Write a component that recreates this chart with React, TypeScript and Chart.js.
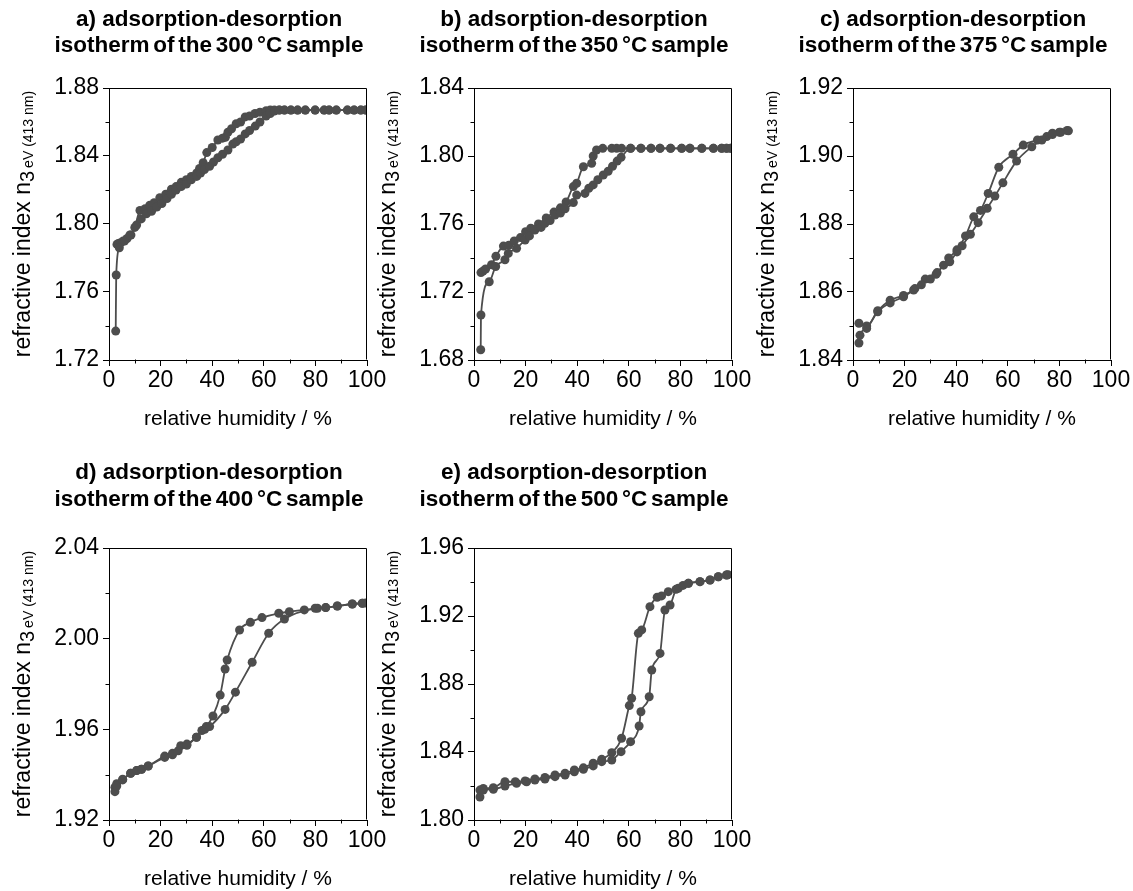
import React, { useEffect, useRef } from "react";
import { Chart, registerables } from "chart.js";
Chart.register(...registerables);

type P = [number, number];

// ---------- data (relative humidity %, refractive index) ----------
const aAdsorption: P[] = [[2.6,1.737],[2.8,1.770],[4,1.786],[6,1.790],[8.1,1.7935],[10.7,1.7994],[12.5,1.803],[14.5,1.806],[16.5,1.8075],[18.5,1.810],[20.5,1.812],[22.5,1.815],[24.2,1.8175],[26,1.820],[28,1.822],[30,1.8235],[31.9,1.826],[34,1.828],[35.5,1.830],[37,1.832],[39,1.834],[40.5,1.8365],[42.2,1.839],[44,1.841],[46.1,1.8435],[48,1.847],[49.3,1.8484],[51,1.850],[52.8,1.853],[54.5,1.855],[56.7,1.8576],[58.5,1.860],[60.9,1.8635],[62.5,1.865],[64.1,1.8665],[66,1.867],[68,1.867],[70.5,1.867],[73.1,1.867],[76.1,1.867],[79.9,1.867],[83.4,1.867],[85.3,1.867],[88.1,1.867],[92.4,1.867],[95,1.867],[97.6,1.867],[99.5,1.867]];
const aDesorption: P[] = [[3.1,1.788],[3.6,1.7886],[4.5,1.789],[5.5,1.790],[7,1.7915],[8.5,1.7935],[10,1.798],[12,1.808],[14,1.809],[15.8,1.811],[17.5,1.8125],[19.7,1.8155],[22,1.8175],[24.2,1.8205],[26,1.822],[28,1.8245],[30,1.826],[31.9,1.828],[34,1.830],[35.1,1.8327],[36.5,1.836],[37.9,1.842],[40,1.845],[42.2,1.8494],[44,1.8505],[45.1,1.851],[46.1,1.854],[47.5,1.856],[49.3,1.859],[51,1.860],[52.8,1.863],[54.5,1.8635],[56.6,1.865],[58.5,1.8658],[60.9,1.8666],[62.5,1.867],[64.1,1.867],[66,1.867],[68,1.867],[70.5,1.867],[73.1,1.867],[76.1,1.867],[79.9,1.867],[83.4,1.867],[85.3,1.867],[88.1,1.867],[92.4,1.867],[95,1.867],[97.6,1.867],[99.5,1.867]];

const bAdsorption: P[] = [[2.6,1.686],[2.7,1.7065],[5.9,1.726],[8.4,1.735],[12,1.739],[13.3,1.7427],[16.5,1.7457],[19.8,1.7506],[21.5,1.753],[23.6,1.7565],[26,1.758],[27.5,1.7604],[29.5,1.762],[31.4,1.7653],[33.5,1.7665],[35.3,1.769],[38.5,1.7726],[39.8,1.777],[43,1.778],[44.5,1.781],[46.2,1.783],[48,1.786],[50.1,1.7888],[52,1.791],[53.7,1.794],[55.5,1.797],[57,1.7992],[60.7,1.8045],[64.7,1.8045],[68.6,1.8045],[72.1,1.8045],[76.2,1.8045],[80.5,1.8045],[83.7,1.8045],[88.3,1.8045],[92.8,1.8045],[96,1.8045],[97.9,1.8045],[99.5,1.8045]];
const bDesorption: P[] = [[2.7,1.7314],[3.5,1.7323],[4.5,1.7335],[6.8,1.736],[8.5,1.741],[11.4,1.747],[13.5,1.7475],[15.6,1.750],[18,1.752],[20,1.7555],[22,1.7575],[25,1.760],[28,1.7635],[31,1.767],[33.5,1.7695],[35.7,1.773],[38.5,1.782],[39.8,1.784],[42.4,1.7937],[45.6,1.7957],[46.2,1.800],[47.5,1.8035],[49.9,1.8045],[53.4,1.8045],[55.3,1.8045],[57.2,1.8045],[60.7,1.8045],[64.7,1.8045],[68.6,1.8045],[72.1,1.8045],[76.2,1.8045],[80.5,1.8045],[83.7,1.8045],[88.3,1.8045],[92.8,1.8045],[96,1.8045],[97.9,1.8045],[99.5,1.8045]];

const cAdsorption: P[] = [[2.3,1.845],[2.7,1.8473],[5.3,1.8493],[9.6,1.8542],[14.4,1.8568],[19.6,1.8586],[23.5,1.8606],[26.5,1.8621],[30,1.8638],[32.2,1.8652],[35.1,1.8679],[37.5,1.8689],[40.3,1.8718],[42.3,1.8736],[45.5,1.877],[48.5,1.8804],[52,1.8846],[55,1.8882],[58.1,1.8921],[63.4,1.8985],[69.3,1.9027],[73.2,1.9047],[77.3,1.9063],[80.5,1.907],[83.5,1.9074]];
const cDesorption: P[] = [[2.3,1.8508],[5.3,1.8500],[9.6,1.8545],[14.4,1.8576],[19.6,1.859],[24,1.861],[28,1.8638],[32.6,1.8657],[37.1,1.8700],[40.3,1.8724],[43.6,1.8765],[46.8,1.8821],[49.4,1.884],[52.4,1.889],[56.5,1.8967],[62,1.9005],[66,1.9032],[71.5,1.9047],[75.1,1.9057],[77.3,1.9067],[80,1.907],[83,1.9075]];

const dAdsorption: P[] = [[2.3,1.9325],[3,1.935],[5.3,1.9377],[8.4,1.9406],[10.7,1.9418],[12.6,1.9424],[15.2,1.9438],[21.6,1.9476],[24.6,1.9488],[26.8,1.9505],[30.2,1.953],[33.9,1.9565],[37.1,1.960],[39,1.9612],[45,1.9688],[49,1.9764],[55.5,1.9896],[61.9,2.0024],[68,2.0087],[79.9,2.0134],[84,2.0137],[88.5,2.0144],[94.3,2.0153],[98.2,2.0156]];
const dDesorption: P[] = [[2.3,1.9345],[3,1.936],[5.3,1.938],[8.4,1.9406],[10.7,1.9418],[12.6,1.9424],[15.2,1.9438],[21.6,1.9482],[24.6,1.9494],[27.8,1.9528],[30.2,1.9535],[33.9,1.9565],[36,1.9595],[37.7,1.9612],[40.3,1.9659],[43.1,1.9751],[45,1.9866],[45.8,1.9906],[50.6,2.0038],[54.8,2.0072],[59.3,2.0093],[65.8,2.0112],[69.9,2.0119],[75.7,2.0127],[80.8,2.0134],[84,2.0137],[88.5,2.0144],[94.3,2.0153],[98.2,2.0156],[99.5,2.0157]];

const eAdsorption: P[] = [[2.3,1.8135],[3.6,1.8176],[7.5,1.8181],[12,1.820],[16.5,1.8216],[20.4,1.8225],[23.6,1.8235],[27.5,1.8241],[31.4,1.8255],[35.3,1.8265],[38.9,1.8284],[42.4,1.8298],[46.2,1.8318],[49.5,1.8343],[53.4,1.8353],[57,1.8402],[60.7,1.8461],[64,1.8553],[64.7,1.8637],[67.9,1.8725],[68.9,1.8882],[72.1,1.898],[74,1.9235],[76,1.9265],[78.3,1.9357],[81,1.938],[83.1,1.9392],[87.6,1.9402],[91.5,1.9412],[94.7,1.9431],[97.9,1.9441]];
const eDesorption: P[] = [[2.3,1.8176],[3.6,1.8186],[7.5,1.819],[12,1.8225],[16,1.8225],[19.8,1.823],[23.6,1.8241],[27.5,1.825],[31.4,1.8265],[35.3,1.8275],[38.9,1.8294],[42.4,1.8307],[46.2,1.8334],[49.5,1.8357],[53.4,1.8396],[57.2,1.8481],[60.2,1.8673],[61.1,1.8716],[63.7,1.9098],[65,1.9118],[68.2,1.9255],[71,1.931],[72.7,1.9318],[75.3,1.9343],[79.2,1.9363],[83.1,1.9392],[87.6,1.9402],[91.5,1.9412],[94.7,1.9431],[97.9,1.9441],[98.5,1.9443]];

const xTicks = [0, 20, 40, 60, 80, 100];
const titles = [
  ["a) adsorption-desorption", "isotherm of the 300 °C sample"],
  ["b) adsorption-desorption", "isotherm of the 350 °C sample"],
  ["c) adsorption-desorption", "isotherm of the 375 °C sample"],
  ["d) adsorption-desorption", "isotherm of the 400 °C sample"],
  ["e) adsorption-desorption", "isotherm of the 500 °C sample"],
];
const yRanges: P[] = [[1.72, 1.88], [1.68, 1.84], [1.84, 1.92], [1.92, 2.04], [1.80, 1.96]];
const yMajorSteps = [0.04, 0.04, 0.02, 0.04, 0.04];
const xTitle = "relative humidity / %";
const yTitleMain = "refractive index n";
const yTitleSub = "3";
const yTitleSub2 = "eV (413 nm)";

// ---------- layout ----------
const FONT = "'Liberation Sans', Arial, Helvetica, sans-serif";
const COLOR = "#4d4d4d";
const PW = 258;
const PH = 272;
const PAD_L = 110, PAD_T = 100, PAD_R = 40, PAD_B = 70;

interface Spec {
  idx: number;
  left: number;
  top: number;
  titleY: [number, number];
  ads: P[];
  des: P[];
}

const specs: Spec[] = [
  { idx: 0, left: 109, top: 88, titleY: [20, 46], ads: aAdsorption, des: aDesorption },
  { idx: 1, left: 474, top: 88, titleY: [20, 46], ads: bAdsorption, des: bDesorption },
  { idx: 2, left: 853, top: 88, titleY: [20, 46], ads: cAdsorption, des: cDesorption },
  { idx: 3, left: 109, top: 548, titleY: [473, 500], ads: dAdsorption, des: dDesorption },
  { idx: 4, left: 474, top: 548, titleY: [473, 500], ads: eAdsorption, des: eDesorption },
];

function mkDataset(pts: P[]) {
  return {
    data: pts.map(([x, y]) => ({ x, y })),
    showLine: true,
    borderColor: COLOR,
    borderWidth: 1.8,
    backgroundColor: COLOR,
    pointBackgroundColor: COLOR,
    pointBorderColor: COLOR,
    pointBorderWidth: 0,
    pointRadius: 4.5,
    cubicInterpolationMode: "monotone" as const,
  };
}

function Panel({ spec }: { spec: Spec }) {
  const ref = useRef<HTMLCanvasElement>(null);
  useEffect(() => {
    const [ymin, ymax] = yRanges[spec.idx];
    const step = yMajorSteps[spec.idx];
    const canvasTop = spec.top - PAD_T;
    const deco = {
      id: "deco" + spec.idx,
      afterDraw(chart: any) {
        const ctx = chart.ctx as CanvasRenderingContext2D;
        const ca = chart.chartArea;
        const xs = chart.scales.x;
        const ys = chart.scales.y;
        ctx.save();
        ctx.strokeStyle = "#000";
        ctx.lineWidth = 1;
        ctx.beginPath();
        const l = Math.round(ca.left) + 0.5;
        const r = Math.round(ca.right) - 0.5;
        const t = Math.round(ca.top) + 0.5;
        const b = Math.round(ca.bottom) - 0.5;
        ctx.moveTo(l, t); ctx.lineTo(r, t);
        ctx.moveTo(r, t); ctx.lineTo(r, b);
        // minor ticks
        for (let v = 10; v < 100; v += 20) {
          const px = Math.round(xs.getPixelForValue(v)) + 0.5;
          ctx.moveTo(px, b); ctx.lineTo(px, b + 4);
        }
        for (let v = ymin + step / 2; v < ymax; v += step) {
          const py = Math.round(ys.getPixelForValue(v)) + 0.5;
          ctx.moveTo(l, py); ctx.lineTo(l - 4, py);
        }
        ctx.stroke();

        // titles
        ctx.fillStyle = "#000";
        ctx.textAlign = "center";
        ctx.textBaseline = "middle";
        ctx.font = `bold 22.5px ${FONT}`;
        const cx = (ca.left + ca.right) / 2;
        titles[spec.idx].forEach((line, i) => {
          (ctx as any).wordSpacing = i === 1 ? "-2.5px" : "0px";
          ctx.fillText(line, cx - 29, spec.titleY[i] - canvasTop);
        });
        (ctx as any).wordSpacing = "0px";

        // x title
        ctx.font = `21px ${FONT}`;
        ctx.fillText(xTitle, cx, ca.bottom + 59);

        // y title with subscripts
        ctx.translate(ca.left - 79, (ca.top + ca.bottom) / 2);
        ctx.rotate(-Math.PI / 2);
        ctx.textAlign = "left";
        ctx.textBaseline = "alphabetic";
        const f1 = `23px ${FONT}`, f2 = `20px ${FONT}`, f3 = `14px ${FONT}`;
        ctx.font = f1; const w1 = ctx.measureText(yTitleMain).width;
        ctx.font = f2; const w2 = ctx.measureText(yTitleSub).width;
        ctx.font = f3; const w3 = ctx.measureText(yTitleSub2).width;
        const gap = 3;
        let x0 = -(w1 + w2 + gap + w3) / 2;
        ctx.font = f1; ctx.fillText(yTitleMain, x0, 0); x0 += w1;
        ctx.font = f2; ctx.fillText(yTitleSub, x0, 4); x0 += w2 + gap;
        ctx.font = f3; ctx.fillText(yTitleSub2, x0, 3);
        ctx.restore();
      },
    };

    const chart = new Chart(ref.current as HTMLCanvasElement, {
      type: "scatter",
      data: { datasets: [mkDataset(spec.ads), mkDataset(spec.des)] as any },
      options: {
        responsive: false,
        animation: false,
        layout: { padding: { left: 0, top: PAD_T, right: PAD_R, bottom: 0 } },
        plugins: {
          legend: { display: false },
          tooltip: { enabled: false },
          title: { display: false },
        },
        scales: {
          x: {
            type: "linear",
            min: 0,
            max: 100,
            afterFit: (s: any) => { s.height = PAD_B; },
            afterBuildTicks: (s: any) => { s.ticks = xTicks.map((v) => ({ value: v })); },
            ticks: {
              color: "#000",
              font: { family: FONT, size: 23 },
              padding: 1,
              maxRotation: 0,
              autoSkip: false,
            },
            grid: { drawOnChartArea: false, drawTicks: true, tickLength: 6, color: "#000" },
            border: { display: true, color: "#000", width: 1 },
          },
          y: {
            type: "linear",
            min: ymin,
            max: ymax,
            afterFit: (s: any) => { s.width = PAD_L; },
            afterBuildTicks: (s: any) => {
              const t: { value: number }[] = [];
              const n = Math.round((ymax - ymin) / step);
              for (let i = 0; i <= n; i++) t.push({ value: +(ymin + i * step).toFixed(4) });
              s.ticks = t;
            },
            ticks: {
              color: "#000",
              font: { family: FONT, size: 23 },
              padding: 4,
              callback: (v: any) => Number(v).toFixed(2),
            },
            grid: { drawOnChartArea: false, drawTicks: true, tickLength: 6, color: "#000" },
            border: { display: true, color: "#000", width: 1 },
          },
        },
      } as any,
      plugins: [deco],
    });
    return () => chart.destroy();
  }, [spec]);

  const w = PAD_L + PW + PAD_R;
  const h = PAD_T + PH + PAD_B;
  return (
    <canvas
      ref={ref}
      width={w}
      height={h}
      style={{ position: "absolute", left: spec.left - PAD_L, top: spec.top - PAD_T, width: w, height: h }}
    />
  );
}

export default function App() {
  return (
    <div style={{ position: "absolute", left: 0, top: 0, width: 1133, height: 891, background: "#fff", overflow: "hidden" }}>
      {specs.map((s) => (
        <Panel key={s.idx} spec={s} />
      ))}
    </div>
  );
}
